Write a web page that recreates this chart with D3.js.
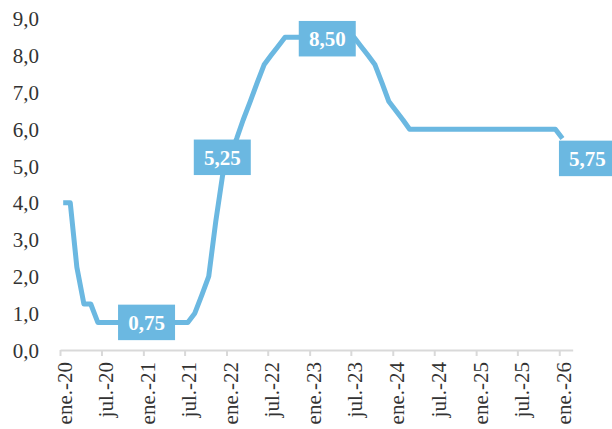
<!DOCTYPE html>
<html>
<head>
<meta charset="utf-8">
<script src="https://cdn.jsdelivr.net/npm/d3@7"></script>
<style>
  body { margin: 0; background: #fff; }
  svg { display: block; }
</style>
</head>
<body>
<div id="chart"></div>
<script>
const w = 612;
const h = 429;

// monthly rate, ene.-20 .. ene.-26 (one value per month)
const startMonth = "2020-01";
const rates = [
  4.0, 4.0, 2.25, 1.25, 1.25, 0.75, 0.75, 0.75, 0.75, 0.75, 0.75, 0.75,
  0.75, 0.75, 0.75, 0.75, 0.75, 0.75, 0.75, 1.0, 1.5, 2.0, 3.5, 4.75,
  5.25, 5.75, 6.25, 6.75, 7.25, 7.75, 8.0, 8.25, 8.5, 8.5, 8.5, 8.5,
  8.5, 8.5, 8.5, 8.5, 8.5, 8.5, 8.5, 8.25, 8.0, 7.75, 7.25, 6.75,
  6.5, 6.25, 6.0, 6.0, 6.0, 6.0, 6.0, 6.0, 6.0, 6.0, 6.0, 6.0,
  6.0, 6.0, 6.0, 6.0, 6.0, 6.0, 6.0, 6.0, 6.0, 6.0, 6.0, 6.0,
  5.75
];
const tickLabels = ["ene.-20", "jul.-20", "ene.-21", "jul.-21", "ene.-22", "jul.-22",
  "ene.-23", "jul.-23", "ene.-24", "jul.-24", "ene.-25", "jul.-25", "ene.-26"];
const yTicks = [0, 1, 2, 3, 4, 5, 6, 7, 8, 9];
// months (index into rates) that carry a value box
const labelled = [12, 24, 38, 72];

const styling = {
  line: "#6bb8e1",
  text: "#333333",
  axis: "#d9d9d9",
  font: "'Liberation Serif', 'DejaVu Serif', serif"
};

const t0 = d3.timeParse("%Y-%m")(startMonth);
const data = rates.map((v, i) => ({ date: d3.timeDay.offset(d3.timeMonth.offset(t0, i), 14), v }));

const loc = d3.formatLocale({ decimal: ",", thousands: ".", grouping: [3], currency: ["", ""] });
const f1 = loc.format(".1f");
const f2 = loc.format(".2f");

const svg = d3.select("#chart").append("svg").attr("width", w).attr("height", h);

const x = d3.scaleTime()
  .domain([t0, d3.timeMonth.offset(t0, 74)])
  .range([60, 572.7]);
const y = d3.scaleLinear().domain([0, 9]).range([350, 18.8]);

// y labels, no axis line
const ya = svg.append("g").attr("transform", "translate(60,0)")
  .call(d3.axisLeft(y).tickValues(yTicks).tickSize(0).tickPadding(21).tickFormat(f1));
ya.select(".domain").remove();
ya.selectAll("text")
  .attr("font-family", styling.font).attr("font-size", 21).attr("fill", styling.text)
  .attr("dy", "0.34em");

// x axis
const tickDates = tickLabels.map((_, i) => d3.timeMonth.offset(t0, i * 6));
const xa = svg.append("g").attr("transform", "translate(0,350)")
  .call(d3.axisBottom(x).tickValues(tickDates).tickSize(6).tickSizeOuter(0)
    .tickFormat((d, i) => tickLabels[i]));
xa.select(".domain").attr("stroke", styling.axis).attr("stroke-width", 2);
xa.selectAll(".tick line").attr("stroke", styling.axis).attr("stroke-width", 2);
xa.selectAll("text")
  .attr("font-family", styling.font).attr("font-size", 21).attr("fill", styling.text)
  .attr("text-anchor", "end")
  .attr("transform", "translate(11,12) rotate(-90)")
  .attr("x", 0).attr("y", 0).attr("dy", 0);

// the series
const line = d3.line().x(d => x(d.date)).y(d => y(d.v));
svg.append("path")
  .datum(data)
  .attr("d", line)
  .attr("fill", "none")
  .attr("stroke", styling.line)
  .attr("stroke-width", 5)
  .attr("stroke-linejoin", "round");

// value boxes
const bw = 57, bh = 35.5;
const shift = { 12: [0, 0], 24: [-7.4, 0.5], 38: [1, 1.5], 72: [25, 20] };
labelled.forEach(i => {
  const d = data[i];
  const [dx, dy] = shift[i];
  const cx = x(d.date) + dx;
  const cy = y(d.v) + dy;
  const g = svg.append("g").attr("transform", `translate(${cx},${cy})`);
  g.append("rect")
    .attr("x", -bw / 2).attr("y", -bh / 2).attr("width", bw).attr("height", bh)
    .attr("fill", styling.line);
  g.append("text").text(f2(d.v))
    .attr("text-anchor", "middle").attr("dy", 7.5)
    .attr("font-family", styling.font).attr("font-size", 21).attr("font-weight", "bold")
    .attr("fill", "#fff");
});
</script>
</body>
</html>
